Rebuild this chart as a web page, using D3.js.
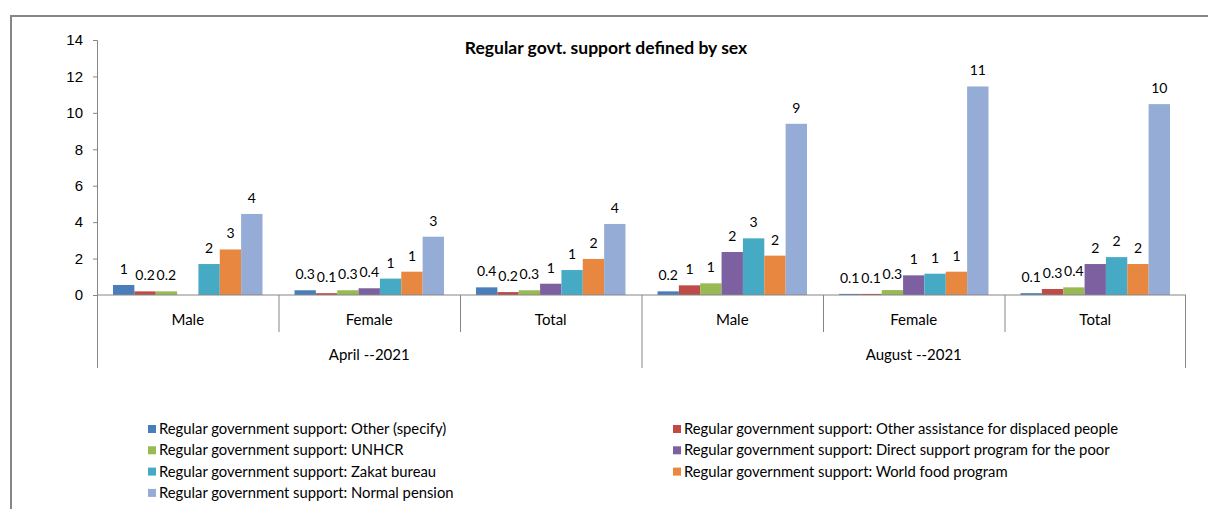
<!DOCTYPE html>
<html>
<head>
<meta charset="utf-8">
<script src="https://cdn.jsdelivr.net/npm/d3@7"></script>
<style>
  body { margin: 0; background: #fff; }
  svg { display: block; font-family: Lato, "Open Sans", sans-serif; }
  .axis text { font-size: 15px; fill: #000; }
  .label { font-size: 14px; fill: #000; text-anchor: middle; }
</style>
</head>
<body>
<div id="chart"></div>
<script>
// data
var periods = ["April --2021", "August --2021"];
var sexes = ["Male", "Female", "Total"];
var seriesNames = [
  "Regular government support: Other (specify)",
  "Regular government support: Other assistance for displaced people",
  "Regular government support: UNHCR",
  "Regular government support: Direct support program for the poor",
  "Regular government support: Zakat bureau",
  "Regular government support: World food program",
  "Regular government support: Normal pension"
];
var seriesColors = ["#4A7EBB", "#BE4B48", "#98B954", "#7D60A0", "#46AAC5", "#E8873F", "#95ACD6"];
// one value per group: April Male, Female, Total, August Male, Female, Total
var otherSpecify   = [0.55, 0.26, 0.42, 0.2, 0.06, 0.1];
var displaced      = [0.2, 0.1, 0.16, 0.53, 0.06, 0.33];
var unhcr          = [0.2, 0.26, 0.26, 0.64, 0.27, 0.42];
var directSupport  = [null, 0.37, 0.62, 2.36, 1.08, 1.7];
var zakat          = [1.7, 0.9, 1.37, 3.11, 1.17, 2.08];
var worldFood      = [2.5, 1.28, 1.98, 2.16, 1.28, 1.7];
var normalPension  = [4.45, 3.2, 3.9, 9.4, 11.45, 10.48];
var yTicks = [0, 2, 4, 6, 8, 10, 12, 14];

var allSeries = [otherSpecify, displaced, unhcr, directSupport, zakat, worldFood, normalPension];

var groups = [];
periods.forEach(function(p) { sexes.forEach(function(s) { groups.push(p + "|" + s); }); });

var svg = d3.select("#chart").append("svg").attr("width", 1208).attr("height", 509);

// outer frame (left + top edges visible)
svg.append("path")
  .attr("d", "M11,509 V16 H1208")
  .attr("fill", "none").attr("stroke", "#868686").attr("stroke-width", 2);

var x0 = d3.scaleBand().domain(groups).range([97, 1186]);
var x1 = d3.scaleBand().domain(d3.range(seriesNames.length)).range([0, x0.bandwidth()])
  .paddingInner(0).paddingOuter(0.75);
var y = d3.scaleLinear().domain([0, 14]).range([295, 40]);

svg.append("text")
  .attr("x", 606).attr("y", 54)
  .attr("text-anchor", "middle")
  .style("font-size", "17.5px").style("font-weight", "bold")
  .text("Regular govt. support defined by sex");

// y axis
var yAxis = svg.append("g").attr("class", "axis")
  .attr("transform", "translate(97,0)")
  .call(d3.axisLeft(y).tickValues(yTicks).tickSize(4).tickPadding(10));
yAxis.selectAll("line, path").attr("stroke", "#868686");

// bars
var table = [];
allSeries.forEach(function(vals, si) {
  vals.forEach(function(v, gi) {
    if (v != null) table.push({ s: si, g: groups[gi], v: v });
  });
});

var bars = svg.selectAll(".bar").data(table).enter().append("g");

bars.append("rect")
  .attr("class", "bar")
  .attr("x", function(d) { return x0(d.g) + x1(d.s); })
  .attr("width", x1.bandwidth())
  .attr("y", function(d) { return y(d.v); })
  .attr("height", function(d) { return y(0) - y(d.v); })
  .style("fill", function(d) { return seriesColors[d.s]; });

bars.append("text")
  .attr("class", "label")
  .attr("x", function(d) { return x0(d.g) + x1(d.s) + x1.bandwidth() / 2; })
  .attr("y", function(d) { return y(d.v) - 11; })
  .text(function(d) { return d.v >= 0.5 ? d3.format(".0f")(d.v) : d3.format(".1f")(d.v); });

// category axis
var cat = svg.append("g").attr("class", "axis");
cat.append("line").attr("x1", 97).attr("x2", 1186).attr("y1", y(0)).attr("y2", y(0)).attr("stroke", "#868686");
groups.forEach(function(g, i) {
  var left = x0(g);
  var isPeriodStart = i % sexes.length === 0;
  cat.append("line")
    .attr("x1", left + 0.5).attr("x2", left + 0.5)
    .attr("y1", y(0)).attr("y2", isPeriodStart ? 368 : 332)
    .attr("stroke", "#868686");
  cat.append("text")
    .attr("x", left + x0.bandwidth() / 2).attr("y", 325)
    .attr("text-anchor", "middle")
    .text(g.split("|")[1]);
});
cat.append("line")
  .attr("x1", 1185.5).attr("x2", 1185.5).attr("y1", y(0)).attr("y2", 368)
  .attr("stroke", "#868686");
periods.forEach(function(p, i) {
  var start = x0(groups[i * sexes.length]);
  var end = x0(groups[i * sexes.length + sexes.length - 1]) + x0.bandwidth();
  cat.append("text")
    .attr("x", (start + end) / 2).attr("y", 360)
    .attr("text-anchor", "middle")
    .text(p);
});

// legend: two columns
var legend = svg.selectAll(".legend").data(seriesNames).enter().append("g")
  .attr("transform", function(d, i) {
    var col = i % 2, row = Math.floor(i / 2);
    return "translate(" + (col === 0 ? 148 : 673) + "," + (429 + row * 21.3) + ")";
  });
legend.append("rect")
  .attr("x", 0).attr("y", -4).attr("width", 8).attr("height", 8)
  .style("fill", function(d, i) { return seriesColors[i]; });
legend.append("text")
  .attr("x", 11).attr("y", 5)
  .style("font-size", "14.8px")
  .text(function(d) { return d; });
</script>
</body>
</html>
